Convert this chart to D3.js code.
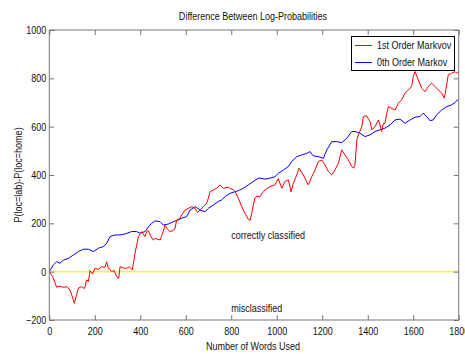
<!DOCTYPE html>
<html>
<head>
<meta charset="utf-8">
<script src="https://cdn.jsdelivr.net/npm/d3@7"></script>
<style>
  body { margin: 0; background: #fff; }
  text { font-family: 'Liberation Sans', Arial, sans-serif; fill: #111; }
</style>
</head>
<body>
<div id="chart"></div>
<script>
// Data
var xTicks = [0, 200, 400, 600, 800, 1000, 1200, 1400, 1600, 1800];
var yTicks = [-200, 0, 200, 400, 600, 800, 1000];

var redWords = [0, 15, 32, 47, 62, 78, 91, 100, 110, 120, 128, 142, 155, 164, 172, 179, 190, 201, 215, 230,
  245, 252, 260, 274, 285, 296, 305, 311, 325, 340, 352, 365, 377, 392, 406, 421, 428, 436, 443, 457,
  465, 487, 501, 509, 520, 531, 545, 553, 560, 575, 582, 597, 611, 626, 641, 652, 663, 677, 692, 699,
  707, 721, 736, 751, 765, 787, 800, 809, 817, 831, 846, 860, 875, 883, 890, 897, 904, 912, 926, 941,
  948, 970, 992, 1007, 1022, 1036, 1051, 1063, 1073, 1088, 1098, 1117, 1139, 1154, 1168, 1183, 1198, 1212, 1227, 1242,
  1256, 1271, 1286, 1300, 1315, 1330, 1337, 1344, 1352, 1359, 1374, 1381, 1395, 1410, 1418, 1432, 1447, 1454, 1461, 1469,
  1476, 1484, 1491, 1505, 1520, 1535, 1549, 1564, 1579, 1593, 1600, 1608, 1622, 1637, 1652, 1666, 1681, 1696, 1710, 1725,
  1737, 1747, 1754, 1769, 1784, 1791, 1800];
var redDiff = [0, -20, -64, -60, -65, -62, -76, -100, -131, -95, -68, -62, -70, -34, -40, 4, -10, 14, 10, 20,
  18, 41, 15, 0, 5, -21, -28, 21, 15, 14, 20, 7, 77, 145, 166, 145, 166, 170, 152, 131,
  138, 131, 166, 193, 175, 166, 170, 180, 214, 220, 235, 255, 262, 269, 262, 245, 255, 269, 283, 304,
  331, 338, 345, 359, 345, 349, 342, 338, 331, 304, 269, 242, 217, 212, 242, 276, 305, 311, 310, 331,
  338, 352, 359, 385, 345, 373, 380, 331, 366, 400, 428, 400, 359, 393, 421, 456, 462, 442, 414, 400,
  421, 449, 504, 483, 462, 435, 428, 442, 545, 566, 600, 642, 645, 621, 587, 600, 628, 607, 580, 614,
  614, 656, 683, 676, 669, 697, 711, 739, 752, 766, 807, 828, 794, 759, 745, 766, 780, 766, 752, 739,
  718, 773, 814, 821, 828, 821, 830];

var blueWords = [0, 18, 32, 47, 62, 84, 106, 128, 150, 172, 194, 216, 238, 252, 267, 289, 311, 333, 362, 384,
  399, 421, 436, 450, 465, 487, 501, 523, 545, 567, 582, 604, 619, 641, 663, 685, 699, 721, 743, 758,
  773, 795, 817, 831, 853, 875, 897, 919, 926, 948, 970, 992, 1007, 1029, 1051, 1066, 1088, 1110, 1132, 1146,
  1161, 1183, 1205, 1220, 1242, 1264, 1286, 1308, 1330, 1344, 1366, 1388, 1410, 1432, 1454, 1476, 1498, 1520, 1542, 1564,
  1586, 1608, 1630, 1644, 1659, 1674, 1688, 1703, 1725, 1747, 1769, 1784, 1791, 1800];
var blueDiff = [0, 28, 41, 35, 48, 55, 69, 83, 93, 93, 83, 97, 104, 117, 145, 152, 152, 156, 166, 166,
  159, 166, 186, 200, 210, 207, 193, 197, 207, 214, 221, 228, 255, 269, 255, 248, 262, 276, 290, 297,
  311, 324, 331, 335, 345, 359, 373, 387, 387, 383, 387, 393, 407, 421, 435, 456, 476, 483, 490, 497,
  479, 476, 469, 504, 538, 538, 534, 552, 580, 580, 573, 559, 566, 580, 587, 594, 607, 628, 631, 614,
  628, 639, 642, 656, 642, 625, 628, 649, 669, 683, 690, 700, 708, 712];

var seriesNames = ["1st Order Markvov", "0th Order Markov"];
var seriesColors = ["#ff0000", "#0000ff"];

// Define SVG area dimensions
var svgWidth = 465;
var svgHeight = 354;

// Axes box, in pixels
var plot = { left: 49.3, right: 458.7, top: 30, bottom: 320 };

var svg = d3.select("#chart")
  .append("svg")
  .attr("width", svgWidth)
  .attr("height", svgHeight);

var xScale = d3.scaleLinear().domain([0, 1800]).range([plot.left, plot.right]);
var yScale = d3.scaleLinear().domain([-200, 1000]).range([plot.bottom, plot.top]);

svg.append("clipPath").attr("id", "clip")
  .append("rect")
  .attr("x", plot.left).attr("y", plot.top)
  .attr("width", plot.right - plot.left).attr("height", plot.bottom - plot.top);

// Zero line
svg.append("line")
  .attr("x1", xScale(0)).attr("x2", xScale(1800))
  .attr("y1", yScale(0)).attr("y2", yScale(0))
  .attr("stroke", "#f6f060")
  .attr("stroke-width", 1.6);

// The two series
var line = d3.line()
  .x(d => xScale(d[0]))
  .y(d => yScale(d[1]));

var seriesData = [
  d3.zip(redWords, redDiff),
  d3.zip(blueWords, blueDiff)
];

// draw blue first, red on top where they cross
[1, 0].forEach(function(i) {
  svg.append("path")
    .datum(seriesData[i])
    .attr("clip-path", "url(#clip)")
    .attr("fill", "none")
    .attr("stroke", seriesColors[i])
    .attr("stroke-width", 1)
    .attr("d", line);
});

// Axes (ticks point inward, MATLAB style)
var axisColor = "#777";
var bottomAxis = d3.axisBottom(xScale).tickValues(xTicks).tickSize(-5).tickPadding(7).tickFormat(d3.format("d"));
var topAxis = d3.axisTop(xScale).tickValues(xTicks).tickSize(-5).tickFormat("");
var leftAxis = d3.axisLeft(yScale).tickValues(yTicks).tickSize(-5).tickPadding(3).tickFormat(d3.format("d"));
var rightAxis = d3.axisRight(yScale).tickValues(yTicks).tickSize(-5).tickFormat("");

function styleAxis(g) {
  g.select(".domain").remove();
  g.selectAll("line").attr("stroke", axisColor);
  g.selectAll("text").attr("font-size", "11px").attr("fill", "#111")
    .style("font-family", "'Liberation Sans', Arial, sans-serif");
}

svg.append("g").attr("transform", `translate(0, ${plot.bottom})`).call(bottomAxis).call(styleAxis);
svg.append("g").attr("transform", `translate(0, ${plot.top})`).call(topAxis).call(styleAxis);
svg.append("g").attr("transform", `translate(${plot.left}, 0)`).call(leftAxis).call(styleAxis);
svg.append("g").attr("transform", `translate(${plot.right}, 0)`).call(rightAxis).call(styleAxis);

// Axes box
svg.append("rect")
  .attr("x", plot.left).attr("y", plot.top)
  .attr("width", plot.right - plot.left).attr("height", plot.bottom - plot.top)
  .attr("fill", "none")
  .attr("stroke", axisColor);

// Annotations
svg.append("text")
  .attr("x", xScale(800)).attr("y", yScale(150))
  .attr("dy", "0.35em")
  .attr("font-size", "11px")
  .text("correctly classified");

svg.append("text")
  .attr("x", xScale(800)).attr("y", yScale(-150))
  .attr("dy", "0.35em")
  .attr("font-size", "11px")
  .text("misclassified");

// Title and axis labels
svg.append("text")
  .attr("x", 253).attr("y", 20)
  .attr("text-anchor", "middle")
  .attr("font-size", "11px")
  .text("Difference Between Log-Probabilities");

svg.append("text")
  .attr("x", 253).attr("y", 350)
  .attr("text-anchor", "middle")
  .attr("font-size", "11px")
  .text("Number of Words Used");

svg.append("text")
  .attr("transform", "rotate(-90)")
  .attr("x", -175).attr("y", 22)
  .attr("text-anchor", "middle")
  .attr("font-size", "11px")
  .text("P(loc=lab)-P(loc=home)");

// Legend
var legend = svg.append("g");
legend.append("rect")
  .attr("x", 351.5).attr("y", 36.5)
  .attr("width", 103).attr("height", 34)
  .attr("fill", "#fff")
  .attr("stroke", "#000");

seriesNames.forEach(function(name, i) {
  var ly = 45.5 + i * 17;
  legend.append("line")
    .attr("x1", 355).attr("x2", 372)
    .attr("y1", ly).attr("y2", ly)
    .attr("stroke", seriesColors[i]);
  legend.append("text")
    .attr("x", 377).attr("y", ly)
    .attr("dy", "0.35em")
    .attr("font-size", "11px")
    .text(name);
});

// The original uses a narrow face; squeeze every text to about 82% of its width
svg.selectAll("text").each(function() {
  var w = this.getComputedTextLength();
  if (w > 0) {
    d3.select(this)
      .attr("textLength", w * 0.82)
      .attr("lengthAdjust", "spacingAndGlyphs");
  }
});
</script>
</body>
</html>
